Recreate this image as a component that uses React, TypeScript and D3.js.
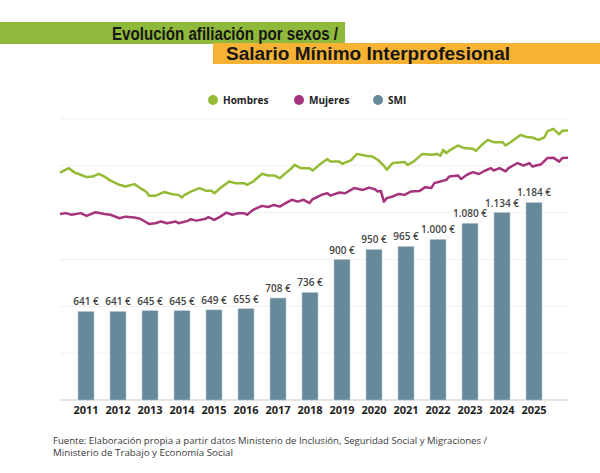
import * as d3 from 'd3';

// SMI (salario mínimo interprofesional), euros/mes
const years = ['2011', '2012', '2013', '2014', '2015', '2016', '2017', '2018', '2019', '2020', '2021', '2022', '2023', '2024', '2025'];
const smi = [641, 641, 645, 645, 649, 655, 708, 736, 900, 950, 965, 1000, 1080, 1134, 1184];

// Afiliación (millones) — [meses desde ene-2011, valor]
const hombres: [number, number][] = [
  [0, 9.71], [3, 9.9], [5, 9.71], [7, 9.62], [9, 9.52], [11, 9.54], [13, 9.66], [15, 9.54], [17, 9.37],
  [20, 9.19], [22, 9.12], [25, 9.22], [27, 9.05], [29, 8.9], [30, 8.72], [32, 8.72], [35, 8.88], [38, 8.79],
  [40, 8.76], [41, 8.65], [42, 8.76], [44, 8.9], [47, 9.05], [49, 8.94], [51, 8.94], [52, 8.83], [54, 9.05],
  [57, 9.33], [59, 9.26], [62, 9.26], [63, 9.19], [65, 9.33], [68, 9.66], [70, 9.59], [72, 9.59], [74, 9.47],
  [76, 9.69], [78, 9.9], [79, 10.04], [81, 9.9], [84, 9.9], [85, 9.8], [87, 10.01], [90, 10.29], [91, 10.18],
  [94, 10.18], [95, 10.09], [98, 10.23], [100, 10.51], [103, 10.43], [105, 10.4], [107, 10.26], [109, 10.0],
  [110, 9.83], [112, 10.12], [114, 10.14], [116, 10.16], [117, 10.04], [119, 10.18], [122, 10.51], [125, 10.47],
  [127, 10.51], [128, 10.43], [129, 10.68], [130, 10.54], [131, 10.65], [134, 10.87], [136, 10.76], [139, 10.73],
  [140, 10.64], [142, 10.9], [144, 11.11], [146, 11.01], [149, 11.01], [150, 10.87], [152, 11.04], [155, 11.32],
  [157, 11.23], [159, 11.21], [161, 11.11], [163, 11.21], [164, 11.47], [166, 11.58], [168, 11.35], [169, 11.5],
  [171, 11.51],
];
const mujeres: [number, number][] = [
  [0, 7.94], [2, 7.98], [4, 7.91], [7, 7.98], [9, 7.86], [12, 8.02], [15, 7.94], [17, 7.91], [20, 7.76],
  [22, 7.83], [25, 7.79], [27, 7.74], [30, 7.52], [32, 7.55], [34, 7.62], [36, 7.55], [39, 7.62], [40, 7.55],
  [43, 7.65], [44, 7.72], [46, 7.66], [49, 7.74], [50, 7.81], [52, 7.69], [54, 7.83], [56, 8.0], [58, 7.91],
  [60, 7.98], [62, 7.98], [63, 7.91], [65, 8.12], [68, 8.29], [70, 8.24], [72, 8.33], [74, 8.26], [76, 8.41],
  [78, 8.55], [80, 8.47], [82, 8.55], [84, 8.41], [85, 8.58], [87, 8.69], [88, 8.76], [90, 8.83], [91, 8.73],
  [94, 8.86], [96, 8.83], [98, 8.97], [99, 9.05], [102, 8.97], [104, 9.07], [106, 9.0], [107, 8.9], [108, 8.93],
  [109, 8.47], [110, 8.62], [112, 8.69], [114, 8.8], [116, 8.76], [118, 8.9], [121, 8.93], [123, 9.09], [125, 9.05],
  [126, 9.26], [128, 9.33], [130, 9.4], [131, 9.54], [134, 9.59], [135, 9.44], [137, 9.62], [139, 9.73], [141, 9.65],
  [143, 9.79], [145, 9.9], [146, 9.8], [148, 9.9], [150, 9.76], [151, 9.9], [154, 10.12], [156, 10.01], [158, 10.12],
  [159, 9.97], [162, 10.07], [164, 10.33], [166, 10.35], [168, 10.18], [169, 10.33], [171, 10.35],
];

const legend = [
  { label: 'Hombres', color: '#93bb34' },
  { label: 'Mujeres', color: '#a6337d' },
  { label: 'SMI', color: '#678a9a' },
];

const gridSteps = [0, 2, 4, 6, 8, 10, 12];

export default function App() {
  const width = 600;
  const height = 473;
  const left = 60;
  const right = 568;
  const top = 119;
  const bottom = 400;

  const start = new Date(2011, 0, 1);
  const x = d3.scaleTime()
    .domain([start, d3.timeMonth.offset(start, 171)])
    .range([left, right]);
  const yLine = d3.scaleLinear().domain([0, 12]).range([bottom, top]);
  const yBar = d3.scaleLinear().domain([200, 1600]).range([bottom, top]);
  const xBand = d3.scaleBand<string>().domain(years).range([70, 550])
    .paddingInner(0.5).paddingOuter(0.25);

  const line = d3.line<[number, number]>()
    .x((d) => x(d3.timeMonth.offset(start, d[0])))
    .y((d) => yLine(d[1]));

  const es = d3.formatLocale({ decimal: ',', thousands: '.', grouping: [3], currency: ['', ' €'] });
  const fmt = es.format('$,d');

  const font = "'Open Sans', 'DejaVu Sans', sans-serif";
  const titleFont = "'Liberation Sans', Arial, sans-serif";

  return (
    <svg width={width} height={height} style={{ position: 'absolute', left: 0, top: 0, background: '#fff' }}
      fontFamily={font}>
      {/* Title */}
      <rect x={0} y={22} width={345} height={22} fill="#8fb93a" />
      <rect x={213} y={43} width={387} height={21} fill="#f6b234" />
      <text x={112} y={39.5} fontFamily={titleFont} fontSize={18} fontWeight={700} fill="#161616"
        textLength={226} lengthAdjust="spacingAndGlyphs">
        Evolución afiliación por sexos /
      </text>
      <text x={226} y={60} fontFamily={titleFont} fontSize={18} fontWeight={700} fill="#161616"
        textLength={284} lengthAdjust="spacingAndGlyphs">
        Salario Mínimo Interprofesional
      </text>

      {/* Legend */}
      {legend.map((l, i) => {
        const lx = [213, 299, 378][i];
        return (
          <g key={l.label}>
            <circle cx={lx} cy={100} r={5} fill={l.color} />
            <text x={lx + 10} y={103.5} fontSize={10} fontWeight={700} fill="#222">{l.label}</text>
          </g>
        );
      })}

      {/* Grid */}
      {gridSteps.map((g) => (
        <line key={g} x1={left} x2={right} y1={yLine(g)} y2={yLine(g)}
          stroke={g === 0 ? '#dcdcdc' : '#efefef'} strokeWidth={g === 0 ? 1.5 : 1} />
      ))}

      {/* Bars */}
      {smi.map((v, i) => (
        <g key={years[i]}>
          <rect x={xBand(years[i])} y={yBar(v)} width={xBand.bandwidth()} height={bottom - yBar(v)}
            fill="#678a9a" stroke="#b8c8d0" strokeWidth={0.5} />
          <text x={(xBand(years[i]) ?? 0) + xBand.bandwidth() / 2} y={yBar(v) - 6} textAnchor="middle"
            fontSize={10} fontWeight={600} fill="#444">{fmt(v)}</text>
        </g>
      ))}

      {/* X axis labels */}
      {years.map((yr) => (
        <text key={yr} x={(xBand(yr) ?? 0) + xBand.bandwidth() / 2} y={414} textAnchor="middle"
          fontSize={11} fontWeight={700} fill="#1e1e1e">{yr}</text>
      ))}

      {/* Lines */}
      <path d={line(hombres) ?? ''} fill="none" stroke="#93bb34" strokeWidth={2.5} strokeLinejoin="round" />
      <path d={line(mujeres) ?? ''} fill="none" stroke="#a6337d" strokeWidth={2.5} strokeLinejoin="round" />

      {/* Footer */}
      <text x={53} y={444} fontSize={9.5} fill="#3a3a3a" textLength={434} lengthAdjust="spacingAndGlyphs">
        Fuente: Elaboración propia a partir datos Ministerio de Inclusión, Seguridad Social y Migraciones /
      </text>
      <text x={53} y={456} fontSize={9.5} fill="#3a3a3a" textLength={180} lengthAdjust="spacingAndGlyphs">
        Ministerio de Trabajo y Economía Social
      </text>
    </svg>
  );
}
